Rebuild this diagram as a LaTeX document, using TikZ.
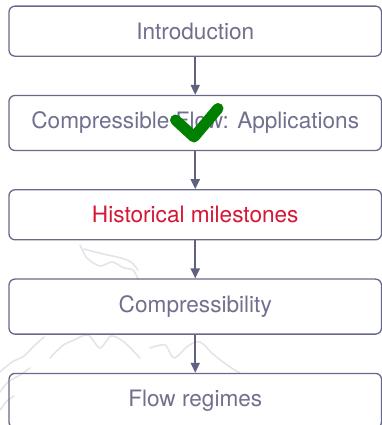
\documentclass[tikz,border=0pt]{standalone}
\usepackage{fontspec}
\setmainfont{TeX Gyre Heros}
\usetikzlibrary{positioning,arrows.meta}
\definecolor{boxline}{RGB}{104,104,140}
\definecolor{arrowcol}{RGB}{96,96,130}
\definecolor{txtcol}{RGB}{112,112,142}
\definecolor{hilite}{RGB}{214,22,52}
\definecolor{checkgreen}{RGB}{0,128,0}
\definecolor{wmark}{RGB}{228,228,232}
\tikzset{
  stepbox/.style={draw=boxline, line width=1.3pt, rounded corners=6pt,
    minimum width=372.5pt, inner ysep=16.6pt, text=txtcol,
    font=\fontsize{22.6pt}{26pt}\selectfont},
  flowarrow/.style={draw=arrowcol, line width=2pt,
    -{Triangle[length=10pt,width=9pt]}},
  wline/.style={draw=wmark, line width=1.6pt, line cap=round, line join=round}
}
\begin{document}
\begin{tikzpicture}[x=1pt,y=-1pt]
\useasboundingbox (0,0) rectangle (382,425);
% faint watermark
\draw[wline] plot[smooth] coordinates {(80,245) (87,258) (100,266) (112,262) (124,268) (133,270) (138,279)};
\draw[wline] plot[smooth] coordinates {(84,249) (95,252) (108,255) (121,258) (131,262) (138,270)};
\draw[wline] plot[smooth] coordinates {(0,372) (12,362) (24,356) (34,346) (44,337)};
\draw[wline] plot[smooth] coordinates {(50,358) (62,346) (74,340) (88,335) (100,348) (111,336) (124,342) (140,358)};
\draw[wline] plot[smooth] coordinates {(150,348) (165,345) (174,358) (188,346) (200,342) (214,355) (230,367) (240,373)};
\draw[wline] plot[smooth] coordinates {(0,392) (8,382) (20,375) (30,368)};
\draw[wline] plot[smooth] coordinates {(0,410) (6,402) (14,396)};
% boxes
\node[stepbox, anchor=north] (intro) at (195.25,5.5) {Introduction};
\node[stepbox, below=38pt of intro] (appl) {Compressible Flow: Applications};
\node[stepbox, below=38pt of appl, text=hilite] (hist) {Historical milestones};
\node[stepbox, below=38pt of hist] (compr) {Compressibility};
\node[stepbox, below=38pt of compr] (regimes) {Flow regimes};
% arrows
\draw[flowarrow] (intro) -- (appl);
\draw[flowarrow] (appl) -- (hist);
\draw[flowarrow] (hist) -- (compr);
\draw[flowarrow] (compr) -- (regimes);
% check mark
\draw[checkgreen, line width=11pt, line cap=round, line join=round]
  (175.5,120) -- (194,137) -- (218,108.5);
\end{tikzpicture}
\end{document}
